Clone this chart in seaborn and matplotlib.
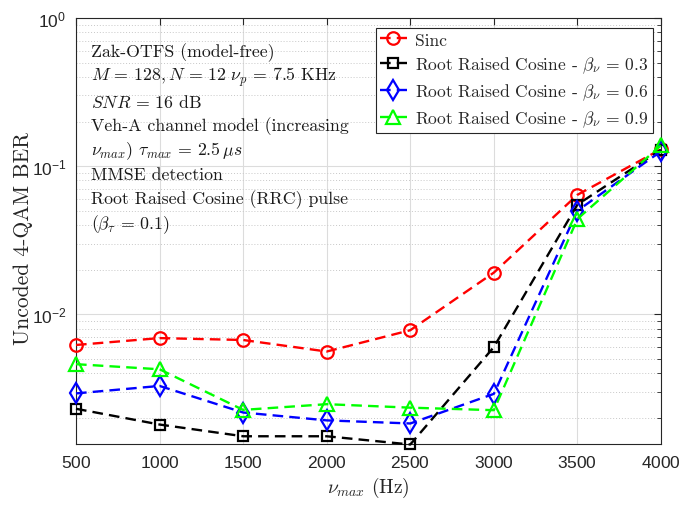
import numpy as np
import pandas as pd
import matplotlib
matplotlib.use("Agg")
import matplotlib.pyplot as plt
import seaborn as sns
from matplotlib.ticker import LogLocator, NullFormatter, FixedLocator

# ---------------- data ----------------
nu_max = [500, 1000, 1500, 2000, 2500, 3000, 3500, 4000]
ber_sinc = [6.2e-3, 6.9e-3, 6.7e-3, 5.6e-3, 7.8e-3, 1.91e-2, 6.4e-2, 1.30e-1]
ber_rrc03 = [2.3e-3, 1.8e-3, 1.5e-3, 1.5e-3, 1.32e-3, 6.0e-3, 5.5e-2, 1.29e-1]
ber_rrc06 = [2.92e-3, 3.28e-3, 2.17e-3, 1.92e-3, 1.83e-3, 2.9e-3, 5.0e-2, 1.26e-1]
ber_rrc09 = [4.6e-3, 4.25e-3, 2.26e-3, 2.47e-3, 2.34e-3, 2.25e-3, 4.4e-2, 1.38e-1]

labels = ["Sinc",
          r"Root Raised Cosine - $\beta_\nu \,=\, 0.3$",
          r"Root Raised Cosine - $\beta_\nu \,=\, 0.6$",
          r"Root Raised Cosine - $\beta_\nu \,=\, 0.9$"]
series = [ber_sinc, ber_rrc03, ber_rrc06, ber_rrc09]
colors = ["#ff0000", "#000000", "#0000ff", "#00ff00"]
markers = ["o", "s", "d", "^"]
msizes = [9, 7.5, 10, 10]

info_lines = ["Zak-OTFS (model-free)",
              r"$M \,=\, 128, N \,=\, 12\ \nu_p \,=\, 7.5$ KHz",
              r"$SNR \,=\, 16$ dB",
              "Veh-A channel model (increasing",
              r"$\nu_{max}$) $\tau_{max} \,=\, 2.5\,\mu s$",
              "MMSE detection",
              "Root Raised Cosine (RRC) pulse",
              r"($\beta_\tau \,=\, 0.1$)"]

# ---------------- style ----------------
sns.set_style("white")
plt.rcParams["font.family"] = ["Liberation Sans", "DejaVu Sans"]
plt.rcParams["mathtext.fontset"] = "custom"
plt.rcParams["mathtext.rm"] = "Liberation Sans"
plt.rcParams["mathtext.it"] = "Liberation Sans:italic"
plt.rcParams["mathtext.bf"] = "Liberation Sans:bold"
plt.rcParams["axes.formatter.use_mathtext"] = True

fig = plt.figure(figsize=(6.94, 5.06), dpi=100)
ax = fig.add_axes([76/694, 1-445/506, 585/694, 426/506])

df = pd.DataFrame({"nu": nu_max * 4,
                   "ber": sum(series, []),
                   "scheme": sum([[l] * len(nu_max) for l in labels], [])})

for lab, col, mk, ms in zip(labels, colors, markers, msizes):
    sub = df[df["scheme"] == lab]
    sns.lineplot(data=sub, x="nu", y="ber", ax=ax, color=col, marker=mk,
                 markersize=ms, markerfacecolor="none", markeredgecolor=col,
                 markeredgewidth=1.6, linewidth=1.7,
                 linestyle=(0, (4.5, 2.6)), label=lab, errorbar=None,
                 clip_on=False, zorder=3)

ax.set_yscale("log")
ax.set_xlim(500, 4000)
ax.set_ylim(1.33e-3, 1)
ax.set_xticks(nu_max)
ax.yaxis.set_major_locator(FixedLocator([1e-2, 1e-1, 1]))
ax.yaxis.set_minor_locator(LogLocator(base=10, subs=np.arange(2, 10)))
ax.yaxis.set_minor_formatter(NullFormatter())

ax.grid(True, which="major", color="#dcdcdc", linewidth=0.8, linestyle="-")
ax.grid(True, which="minor", axis="y", color="#c8c8c8", linewidth=0.7,
        linestyle=(0, (1, 2)))
for s in ax.spines.values():
    s.set_color("#262626")
    s.set_linewidth(0.8)
    s.set_visible(True)
ax.tick_params(axis="both", which="both", direction="in", top=True,
               right=True, colors="#262626", labelsize=12.5, pad=7)
ax.tick_params(axis="both", which="major", length=5)
ax.tick_params(axis="y", which="minor", length=3)
for t in ax.get_xticklabels() + ax.get_yticklabels():
    t.set_color("#262626")

serif = dict(family="cmr10", math_fontfamily="cm")
ax.set_xlabel(r"$\nu_{max}$ (Hz)", fontsize=14, color="#262626",
              labelpad=4, **serif)
ax.set_ylabel("Uncoded 4-QAM BER", fontsize=15.5, color="#262626", **serif)
ax.yaxis.set_label_coords((33 - 76) / 585, 0.485)

leg = ax.legend(loc="upper right", bbox_to_anchor=(0.986, 0.977),
                borderaxespad=0, frameon=True, fancybox=False,
                edgecolor="#262626", framealpha=1, handlelength=1.5,
                handletextpad=0.5, labelspacing=0.38, borderpad=0.25,
                prop={"family": "cmr10", "size": 12.6})
leg.get_frame().set_linewidth(0.8)
for t in leg.get_texts():
    t.set_math_fontfamily("cm")

y0 = 53
for i, line in enumerate(info_lines):
    ypx = y0 + i * 24.5
    ax.text((91 - 76) / 585, 1 - (ypx - 19) / 426, line,
            transform=ax.transAxes, fontsize=12.8, va="center", ha="left",
            color="#1a1a1a", zorder=4, **serif)

fig.savefig("out.png", dpi=100)
